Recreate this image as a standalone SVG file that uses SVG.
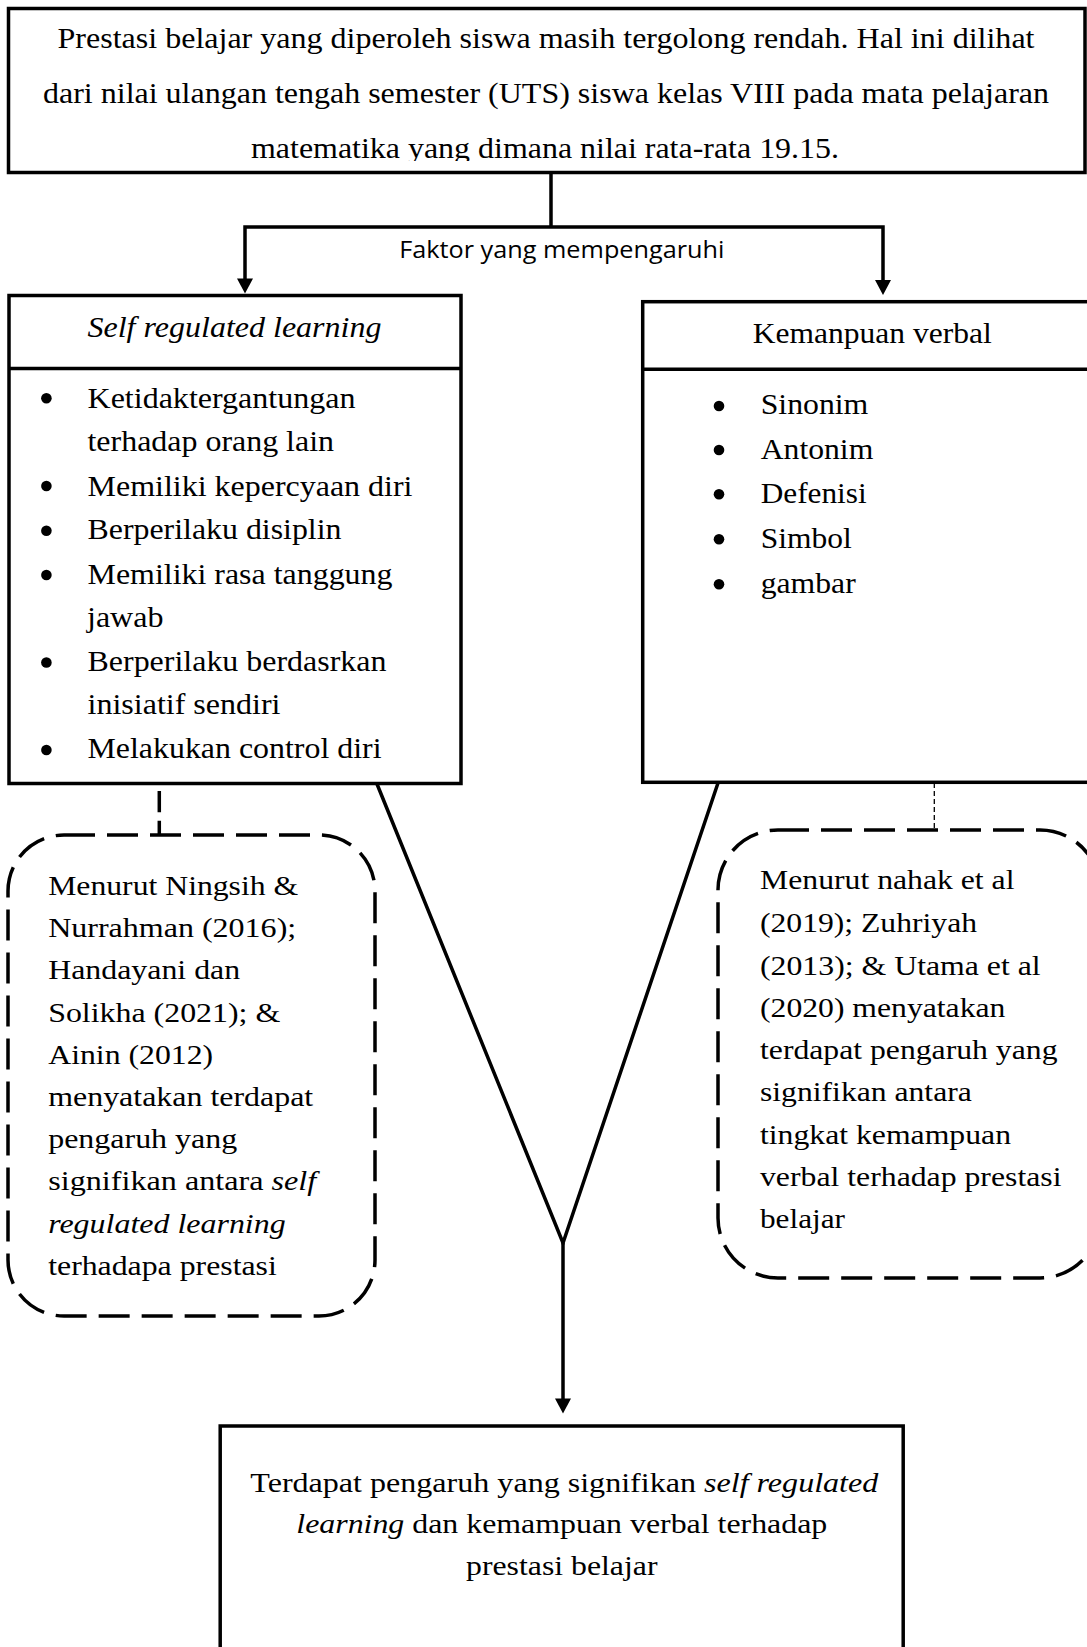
<svg xmlns="http://www.w3.org/2000/svg" width="1087" height="1647" viewBox="0 0 1087 1647">
<style>
.box{fill:#fff;stroke:#000;stroke-width:3.5}
.t{font-family:Liberation Serif;font-size:29px;fill:#000}
.s{font-size:28px}
.i{font-style:italic}
.dash{fill:none;stroke:#000;stroke-width:3.5;stroke-dasharray:31 12}
.conn{fill:none;stroke:#000;stroke-width:3.5}
.bul{fill:#000}
.lbl{font-family:Open Sans;font-size:23px;fill:#000}
</style>
<defs>
<marker id="arr" markerUnits="userSpaceOnUse" markerWidth="16" markerHeight="16" viewBox="0 0 15 16" refX="0.5" refY="8" orient="auto">
<path d="M0,0 L15,8 L0,16 z" fill="#000"/>
</marker>
<clipPath id="topclip"><rect x="0" y="0" width="1087" height="161"/></clipPath>
</defs>
<rect width="1087" height="1647" fill="#fff"/>

<g id="connectors">
<path class="conn" d="M551 173 V227"/>
<path class="conn" d="M551 227 H245 V279" marker-end="url(#arr)"/>
<path class="conn" d="M551 227 H883 V280.5" marker-end="url(#arr)"/>
<path class="conn" d="M159.3 791 V812.3 M159.3 820.7 V835"/>
<path d="M934.3 783 V830" fill="none" stroke="#000" stroke-width="1.3" stroke-dasharray="5 3"/>
<path class="conn" stroke-width="3" d="M377 784 L563 1243 L718 783"/>
<path class="conn" d="M563 1243 V1399" marker-end="url(#arr)"/>
<text class="lbl" font-family="Open Sans" x="399.3" y="258.3" textLength="325" lengthAdjust="spacingAndGlyphs">Faktor yang mempengaruhi</text>
</g>

<g font-family="Liberation Serif">
<g id="node-top">
<rect class="box" stroke-width="3" x="8.5" y="8.5" width="1076.5" height="164"/>
<g clip-path="url(#topclip)">
<text class="t" font-family="Liberation Serif" x="57.5" y="48.3" textLength="977" lengthAdjust="spacingAndGlyphs">Prestasi belajar yang diperoleh siswa masih tergolong rendah. Hal ini dilihat</text>
<text class="t" font-family="Liberation Serif" x="43" y="103.3" textLength="1006" lengthAdjust="spacingAndGlyphs">dari nilai ulangan tengah semester (UTS) siswa kelas VIII pada mata pelajaran</text>
<text class="t" font-family="Liberation Serif" x="251" y="158.3" textLength="588" lengthAdjust="spacingAndGlyphs">matematika yang dimana nilai rata-rata 19.15.</text>
</g>
</g>

<g id="node-srl">
<rect class="box" x="9" y="295.5" width="452" height="488"/>
<line x1="9" y1="368.5" x2="461" y2="368.5" stroke="#000" stroke-width="3.5"/>
<text class="t i" x="87.5" y="336.7" textLength="294" lengthAdjust="spacingAndGlyphs">Self regulated learning</text>
<circle class="bul" cx="46.4" cy="398.3" r="5.3"/>
<circle class="bul" cx="46.4" cy="486" r="5.3"/>
<circle class="bul" cx="46.4" cy="530.7" r="5.3"/>
<circle class="bul" cx="46.4" cy="575" r="5.3"/>
<circle class="bul" cx="46.4" cy="662.5" r="5.3"/>
<circle class="bul" cx="46.4" cy="750" r="5.3"/>
<text class="t" x="87.5" y="407.7" textLength="268" lengthAdjust="spacingAndGlyphs">Ketidaktergantungan</text>
<text class="t" x="87.5" y="451" textLength="246.5" lengthAdjust="spacingAndGlyphs">terhadap orang lain</text>
<text class="t" x="87.5" y="496" textLength="325" lengthAdjust="spacingAndGlyphs">Memiliki kepercyaan diri</text>
<text class="t" x="87.5" y="539.3" textLength="254" lengthAdjust="spacingAndGlyphs">Berperilaku disiplin</text>
<text class="t" x="87.5" y="584" textLength="305" lengthAdjust="spacingAndGlyphs">Memiliki rasa tanggung</text>
<text class="t" x="87" y="626.7" textLength="76.5" lengthAdjust="spacingAndGlyphs">jawab</text>
<text class="t" x="87.5" y="671" textLength="299" lengthAdjust="spacingAndGlyphs">Berperilaku berdasrkan</text>
<text class="t" x="87.5" y="714.3" textLength="193" lengthAdjust="spacingAndGlyphs">inisiatif sendiri</text>
<text class="t" x="87.5" y="758.3" textLength="294" lengthAdjust="spacingAndGlyphs">Melakukan control diri</text>
</g>

<g id="node-verbal">
<rect class="box" x="642.7" y="301.7" width="470" height="480.6"/>
<line x1="642.7" y1="369.3" x2="1090" y2="369.3" stroke="#000" stroke-width="3.5"/>
<text class="t" x="752.7" y="342.7" textLength="239" lengthAdjust="spacingAndGlyphs">Kemanpuan verbal</text>
<circle class="bul" cx="719" cy="406" r="5.3"/>
<circle class="bul" cx="719" cy="450" r="5.3"/>
<circle class="bul" cx="719" cy="494.3" r="5.3"/>
<circle class="bul" cx="719" cy="539.3" r="5.3"/>
<circle class="bul" cx="719" cy="584.3" r="5.3"/>
<text class="t" x="760.7" y="414.3" textLength="107.6" lengthAdjust="spacingAndGlyphs">Sinonim</text>
<text class="t" x="760.7" y="459" textLength="112.6" lengthAdjust="spacingAndGlyphs">Antonim</text>
<text class="t" x="760.7" y="503.3" textLength="106" lengthAdjust="spacingAndGlyphs">Defenisi</text>
<text class="t" x="760.7" y="548.3" textLength="91" lengthAdjust="spacingAndGlyphs">Simbol</text>
<text class="t" x="760.7" y="593.3" textLength="95" lengthAdjust="spacingAndGlyphs">gambar</text>
</g>

<g id="node-ref-srl">
<rect class="dash" x="8" y="835" width="367" height="481" rx="56" ry="56"/>
<text class="t s" x="48.2" y="895" textLength="250" lengthAdjust="spacingAndGlyphs">Menurut Ningsih &amp;</text>
<text class="t s" x="48.2" y="937.2" textLength="248" lengthAdjust="spacingAndGlyphs">Nurrahman (2016);</text>
<text class="t s" x="48.2" y="979.4" textLength="192" lengthAdjust="spacingAndGlyphs">Handayani dan</text>
<text class="t s" x="48.2" y="1021.6" textLength="232" lengthAdjust="spacingAndGlyphs">Solikha (2021); &amp;</text>
<text class="t s" x="48.2" y="1063.8" textLength="165" lengthAdjust="spacingAndGlyphs">Ainin (2012)</text>
<text class="t s" x="48.2" y="1106" textLength="265" lengthAdjust="spacingAndGlyphs">menyatakan terdapat</text>
<text class="t s" x="48.2" y="1148.2" textLength="189" lengthAdjust="spacingAndGlyphs">pengaruh yang</text>
<text class="t s" x="48.2" y="1190.4" textLength="268" lengthAdjust="spacingAndGlyphs">signifikan antara <tspan class="i">self</tspan></text>
<text class="t s i" x="48.2" y="1232.6" textLength="237.5" lengthAdjust="spacingAndGlyphs">regulated learning</text>
<text class="t s" x="48.2" y="1274.8" textLength="228.6" lengthAdjust="spacingAndGlyphs">terhadapa prestasi</text>
</g>

<g id="node-ref-verbal">
<rect class="dash" x="718" y="830" width="382" height="448" rx="60" ry="60"/>
<text class="t s" x="760" y="889" textLength="254.5" lengthAdjust="spacingAndGlyphs">Menurut nahak et al</text>
<text class="t s" x="760" y="931.8" textLength="217" lengthAdjust="spacingAndGlyphs">(2019); Zuhriyah</text>
<text class="t s" x="760" y="974.6" textLength="280.7" lengthAdjust="spacingAndGlyphs">(2013); &amp; Utama et al</text>
<text class="t s" x="760" y="1016.8" textLength="245.4" lengthAdjust="spacingAndGlyphs">(2020) menyatakan</text>
<text class="t s" x="760" y="1058.6" textLength="297.5" lengthAdjust="spacingAndGlyphs">terdapat pengaruh yang</text>
<text class="t s" x="760" y="1101.4" textLength="211.8" lengthAdjust="spacingAndGlyphs">signifikan antara</text>
<text class="t s" x="760" y="1143.6" textLength="251" lengthAdjust="spacingAndGlyphs">tingkat kemampuan</text>
<text class="t s" x="760" y="1186.4" textLength="301.5" lengthAdjust="spacingAndGlyphs">verbal terhadap prestasi</text>
<text class="t s" x="760" y="1228.2" textLength="85" lengthAdjust="spacingAndGlyphs">belajar</text>
</g>

<g id="node-result">
<rect class="box" x="220.2" y="1426" width="683" height="300"/>
<text class="t s" x="250.3" y="1491.7" textLength="628" lengthAdjust="spacingAndGlyphs">Terdapat pengaruh yang signifikan <tspan class="i">self regulated</tspan></text>
<text class="t s" x="296.3" y="1533.3" textLength="531" lengthAdjust="spacingAndGlyphs"><tspan class="i">learning</tspan> dan kemampuan verbal terhadap</text>
<text class="t s" x="466" y="1575" textLength="191.5" lengthAdjust="spacingAndGlyphs">prestasi belajar</text>
</g>
</g>
</svg>
